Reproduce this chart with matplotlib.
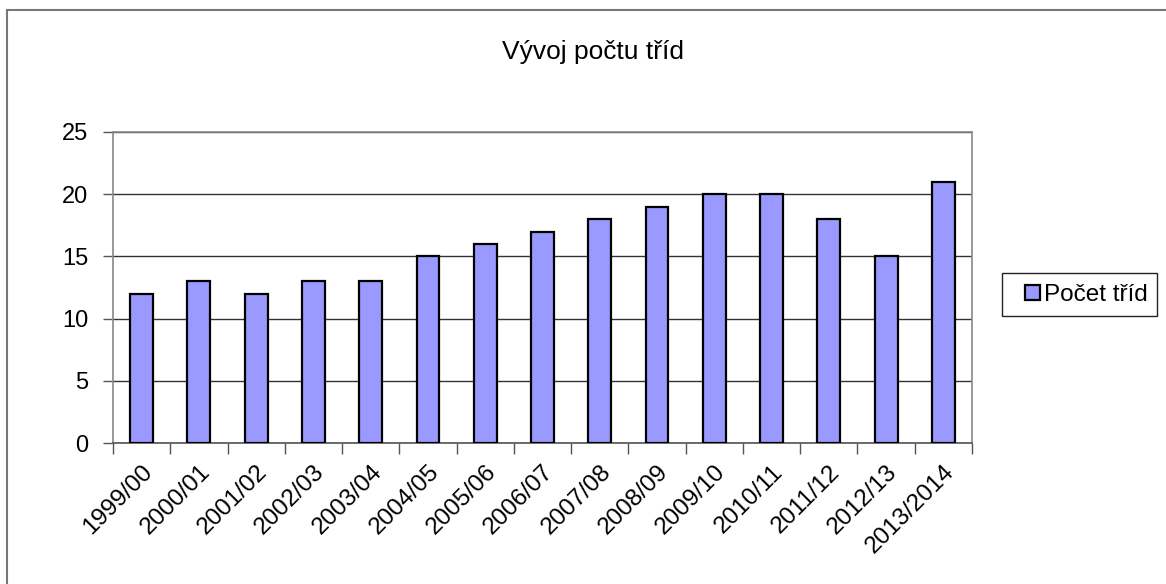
import matplotlib
matplotlib.use("Agg")
import matplotlib.pyplot as plt
from matplotlib.patches import Rectangle

categories = ["1999/00", "2000/01", "2001/02", "2002/03", "2003/04", "2004/05", "2005/06",
              "2006/07", "2007/08", "2008/09", "2009/10", "2010/11", "2011/12", "2012/13", "2013/2014"]
values = [12, 13, 12, 13, 13, 15, 16, 17, 18, 19, 20, 20, 18, 15, 21]
series_name = "Počet tříd"
title = "Vývoj počtu tříd"

plt.rcParams['font.family'] = ['Liberation Sans', 'DejaVu Sans']

W, H = 1166, 584
fig = plt.figure(figsize=(W / 100, H / 100), dpi=100)
fig.patches.append(Rectangle((7 / W, -0.01), 1.0, 1 - 10 / H + 0.01, transform=fig.transFigure,
                             fill=False, edgecolor='#777777', linewidth=1.5))

left, right, top, bottom = 113, 972, 132, 443
ax = fig.add_axes([left / W, 1 - bottom / H, (right - left) / W, (bottom - top) / H])

x = list(range(len(categories)))
bars = ax.bar(x, values, width=0.4, color='#9999FF', edgecolor='black', linewidth=1.6,
              label=series_name, zorder=3)
ax.set_xlim(-0.5, len(categories) - 0.5)
ax.set_ylim(0, 25)
ax.set_yticks([0, 5, 10, 15, 20, 25])
ax.yaxis.grid(True, color='#333333', linewidth=1, zorder=0)
ax.set_axisbelow(True)

ax.set_xticks([i - 0.5 for i in range(len(categories) + 1)], minor=False)
ax.set_xticklabels([])
ax.set_xticks(x, minor=True)
ax.set_xticklabels(categories, minor=True, rotation=45, ha='right', rotation_mode='anchor', fontsize=17.5)
ax.tick_params(axis='x', which='minor', length=0, pad=13)
ax.tick_params(axis='x', which='major', length=8, width=1, color='#555555')
ax.tick_params(axis='y', length=7, width=1, color='#555555', labelsize=17, pad=11)

for s in ['left', 'top', 'right']:
    ax.spines[s].set_color('#888888')
    ax.spines[s].set_linewidth(1.2)
ax.spines['bottom'].set_color('#555555')
ax.spines['bottom'].set_linewidth(1.2)

fig.text(593 / W, 1 - 52 / H, title, ha='center', va='center', fontsize=19)

# legend frame
fig.patches.append(Rectangle((1002 / W, 1 - 316 / H), 155 / W, 43 / H, transform=fig.transFigure,
                             fill=True, facecolor='white', edgecolor='#222222', linewidth=1))
leg = fig.legend(handles=[bars], labels=[series_name], loc='center left',
                 bbox_to_anchor=(1025 / W, 1 - 295 / H), fontsize=17.5, frameon=False,
                 handlelength=0.62, handleheight=0.6, handletextpad=0.15, borderpad=0,
                 borderaxespad=0)

fig.savefig("out.png", dpi=100)
